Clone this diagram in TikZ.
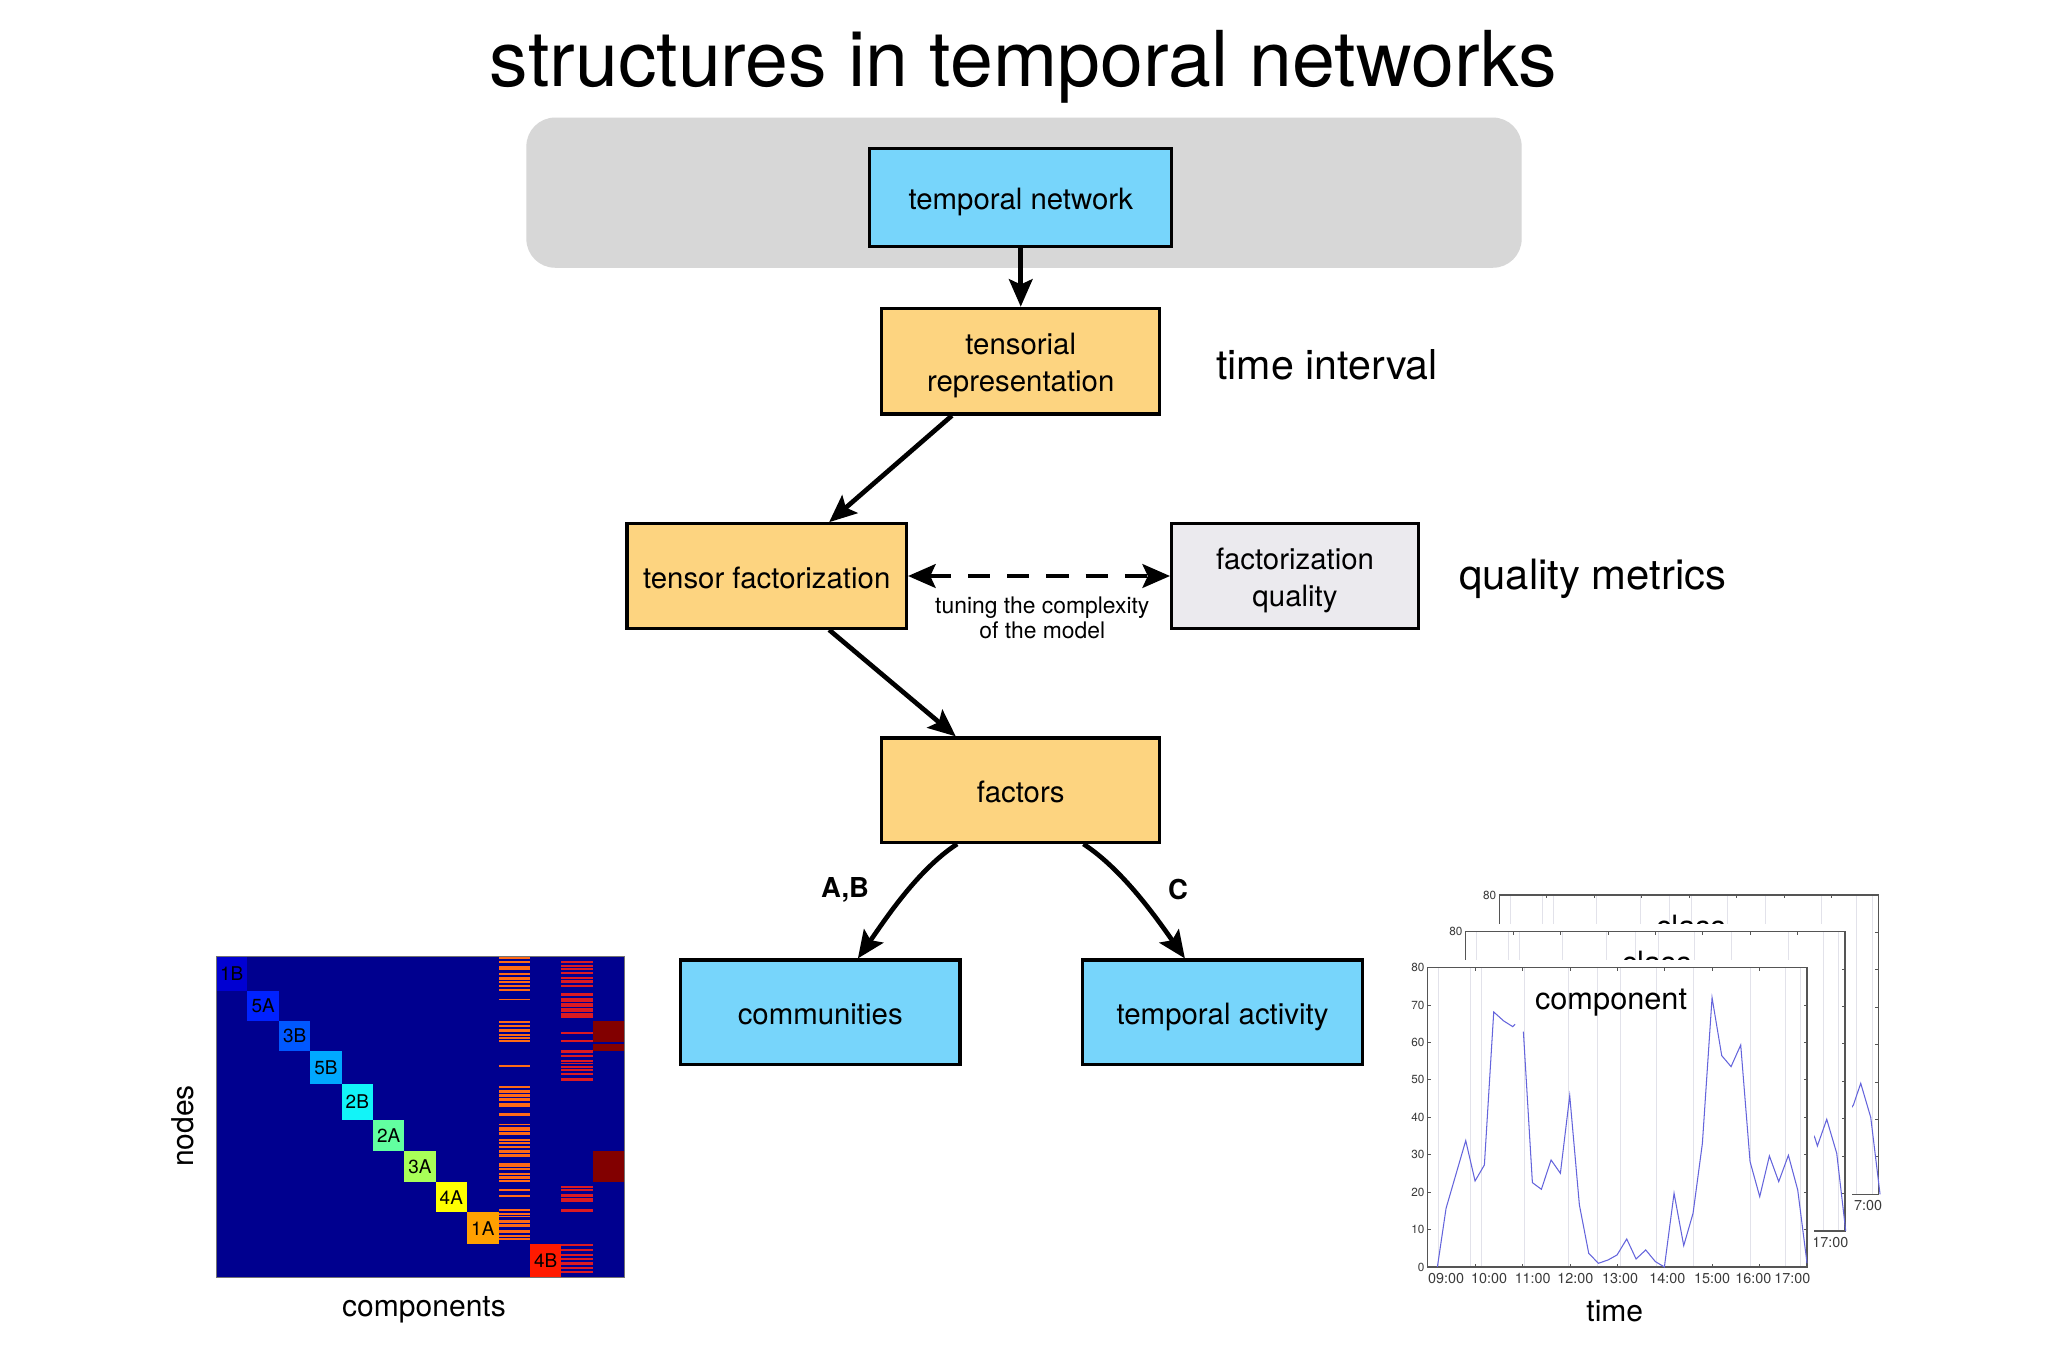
\documentclass[tikz,border=0pt]{standalone}
\usepackage{fontspec}
\setmainfont{TeX Gyre Heros}
\usetikzlibrary{arrows.meta,calc}
\definecolor{bgray}{HTML}{D7D7D7}
\definecolor{bblue}{HTML}{77D5FB}
\definecolor{borange}{HTML}{FDD480}
\definecolor{bqual}{HTML}{EBEAEE}
\definecolor{hmbg}{HTML}{00008F}
\definecolor{cIB}{HTML}{0000D2}
\definecolor{cVA}{HTML}{0022FF}
\definecolor{cIIIB}{HTML}{0058FF}
\definecolor{cVB}{HTML}{00A8FF}
\definecolor{cIIB}{HTML}{12F4F8}
\definecolor{cIIA}{HTML}{62FFA0}
\definecolor{cIIIA}{HTML}{A8FF58}
\definecolor{cIVA}{HTML}{FFFF00}
\definecolor{cIA}{HTML}{FFA000}
\definecolor{cIVB}{HTML}{FF1A00}
\definecolor{hmorange}{HTML}{FF6A16}
\definecolor{hmred}{HTML}{DC1A22}
\definecolor{hmdark}{HTML}{820000}
\definecolor{gridc}{HTML}{E2E2EA}
\definecolor{axc}{HTML}{555555}
\definecolor{labc}{HTML}{3A3A3A}
\definecolor{serc}{HTML}{6464DC}
\newcommand{\fsz}[2]{\fontsize{#1}{#2}\selectfont}
\newcommand{\tb}{\rule{0pt}{23.5pt}}
\newcommand{\te}{\rule[-5pt]{0pt}{5pt}}
% chart frame in zoomed units (front chart: axes 143..1281 x 323..1221)
\newcommand{\chartframe}{%
  \fill[white] (95,300) rectangle (1301,1300);
  \foreach \gx in {175,272,305,433,565,652,720,828,940,1110,1215,1262}
    \draw[gridc, line width=0.5pt] (\gx,323) -- (\gx,1221);
  \draw[axc, line width=0.9pt] (143,323) rectangle (1281,1221);
  \foreach \k in {0,...,8} {
    \draw[axc, line width=0.6pt] ({143+142.25*\k},1221) -- ++(0,-10);
    \draw[axc, line width=0.6pt] ({143+142.25*\k},323) -- ++(0,10);
  }
  \foreach \j in {0,...,8} {
    \draw[axc, line width=0.6pt] (143,{1221-112.25*\j}) -- ++(10,0);
    \draw[axc, line width=0.6pt] (1281,{1221-112.25*\j}) -- ++(-10,0);
  }
}
\begin{document}
\begin{tikzpicture}[x=1pt,y=-1pt,
  box/.style={draw=black, line width=2.4pt, minimum width=#1, minimum height=80pt,
    inner sep=0pt, align=center, font=\fsz{22.5}{28}},
  box/.default=213pt,
  tipa/.tip={Stealth[length=21pt,width=18pt,inset=4pt]},
  arr/.style={line width=3.6pt, -tipa},
  ylab/.style={font=\fsz{9}{10}, text=labc, inner sep=1pt},
  xlab/.style={font=\fsz{11}{12}, text=labc, inner sep=0pt},
  sqlab/.style={font=\fsz{14.5}{16}, text=black, inner sep=0pt},
  big/.style={font=\fsz{31.5}{36}, inner sep=0pt},
]
\useasboundingbox (0,0) rectangle (1568,1045);
\fill[white] (0,0) rectangle (1568,1045);

% title
\node[font=\fsz{59}{70}, anchor=base, inner sep=0pt] (title) at (783.5,66.4) {structures in temporal networks};

% grey panel
\node[fill=bgray, rounded corners=22pt, minimum width=762pt, minimum height=115pt, inner sep=0pt] (panel) at (784,147.5) {};

% boxes
\node[box=231pt, minimum height=75pt, fill=bblue] (tn) at (781.5,151.5) {\tb temporal network\te};
\node[box=213pt, minimum height=81pt, fill=borange] (tr) at (781.5,276.5) {\tb tensorial\\representation\te};
\node[box=214pt, fill=borange] (tf) at (587,441) {\tb tensor factorization\te};
\node[box=189pt, fill=bqual] (fq) at (991.5,441) {\tb factorization\\quality\te};
\node[box=213pt, fill=borange] (fa) at (781.5,605) {\tb factors\te};
\node[box=214pt, fill=bblue] (co) at (628,775) {\tb communities\te};
\node[box=214pt, fill=bblue] (ta) at (936,775) {\tb temporal activity\te};

% side texts
\node[big, anchor=base west] (ti) at (931,290.4) {time interval};
\node[big, font=\fsz{32}{36}, anchor=base west] (qm) at (1117,451) {quality metrics};
\node[font=\fsz{17.5}{19.6}, align=center, anchor=base, inner sep=0pt] (tune) at (798,489.2) {tuning the complexity\\of the model};

% connectors
\draw[arr] (tn.south) -- (tr.north);
\draw[arr] ([xshift=55pt]tr.south west) -- ([xshift=156pt]tf.north west);
\draw[arr] ([xshift=156pt]tf.south west) -- ([xshift=58pt]fa.north west);
\draw[line width=3.6pt, dash pattern=on 17pt off 13pt, tipa-tipa]
  (tf.east) -- (fq.west);
\draw[arr] ([xshift=59pt]fa.south west) .. controls +(-30.2,19.6) and +(20.7,-29.5) .. ([xshift=137pt]co.north west);
\draw[arr] ([xshift=155.7pt]fa.south west) .. controls +(30.2,19.6) and +(-20.7,-29.5) .. ([xshift=79.4pt]ta.north west);
\node[font=\bfseries\fsz{21}{24}, inner sep=0pt] (lab) at (647,681) {A,B};
\node[font=\bfseries\fsz{21}{24}, inner sep=0pt] (labc) at (902,681) {C};

% heatmap
\begin{scope}[shift={(137.8,719.7)}, x=0.25521pt, y=-0.25521pt]
  \fill[hmbg] (108,48) rectangle (1333,1013);
  \foreach \xa/\xb/\ya/\yb/\col/\lab in {
      108/202/48/153/cIB/1B, 202/297/153/243/cVA/5A, 297/391/243/333/cIIIB/3B,
      391/485/333/432/cVB/5B, 485/579/432/540/cIIB/2B, 579/673/540/632/cIIA/2A,
      673/767/632/727/cIIIA/3A, 767/861/727/817/cIVA/4A, 861/956/817/912/cIA/1A,
      1050/1144/912/1013/cIVB/4B} {
    \fill[\col] (\xa,\ya) rectangle (\xb,\yb);
    \node[sqlab] (sq\lab) at ({(\xa+\xb)/2},{(\ya+\yb)/2}) {\lab};
  }
  \foreach \a/\b in {50/56,63/70,78/90,100/106,112/120,123/130,136/141,146/153,176/181,
      243/250,256/262,268/275,282/288,292/296,299/305,376/382,
      437/444,451/458,462/470,475/482,490/500,518/528,551/556,562/572,575/584,
      596/602,606/612,617/625,630/640,643/650,670/680,683/690,700/704,708/716,719/727,
      748/753,765/770,808/813,818/824,827/832,840/848,852/860,870/880,885/890,895/900}
    \fill[hmorange] (956,\a) rectangle (1050,\b);
  \foreach \a/\b in {48/52,62/68,75/82,84/90,96/102,110/118,121/128,135/141,160/168,175/186,
      190/200,205/215,220/227,229/235,276/282,300/305,330/340,345/352,360/366,368/372,
      378/385,387/392,398/405,413/424,737/744,746/752,762/770,775/787,808/815,
      912/917,928/934,941/947,954/961,967/974,981/988,994/1000}
    \fill[hmred] (1144,\a) rectangle (1239,\b);
  \fill[hmdark] (1239,243) rectangle (1333,305);
  \fill[hmdark] (1239,313) rectangle (1333,333);
  \fill[hmdark] (1239,632) rectangle (1333,727);
  \draw[black!55, line width=0.5pt] (108,48) rectangle (1333,1013);
\end{scope}
\node[font=\fsz{23}{26}, rotate=90, anchor=base, inner sep=0pt] (nodes) at (148.5,862) {nodes};
\node[font=\fsz{23}{26}, anchor=base, inner sep=0pt] (comps) at (324.6,1008) {components};

% stacked charts
\begin{scope}[shift={(1056.6,658.4)}, x=0.25521pt, y=-0.25521pt]
  % back chart
  \begin{scope}[shift={(215,-218)}]
    \chartframe
    \node[ylab, anchor=east] (c3y) at (138,323) {80};
    \node[xlab, anchor=center] (c3x) at (1237,1255) {17:00};
    \node[font=\fsz{23.5}{26}, anchor=base, inner sep=0pt] (c3t) at (718,450) {class};
    \draw[serc, line width=0.8pt] (1180,990) -- (1205,953) -- (1227,888) -- (1257,990) -- (1285,1221);
  \end{scope}
  % middle chart
  \begin{scope}[shift={(114,-108)}]
    \chartframe
    \node[ylab, anchor=east] (c2y) at (138,323) {80};
    \node[xlab, anchor=center] (c2x) at (1237,1255) {17:00};
    \node[font=\fsz{23.5}{26}, anchor=base, inner sep=0pt] (c2t) at (716,450) {class};
    \draw[serc, line width=0.8pt] (1170,900) -- (1191,943) -- (1198,966) -- (1226,886) -- (1256,988) -- (1283,1221);
  \end{scope}
  % front chart
  \chartframe
  \foreach \j/\v in {0/0,1/10,2/20,3/30,4/40,5/50,6/60,7/70,8/80}
    \node[ylab, anchor=east] (fy\v) at (138,{1221-112.25*\j}) {\v};
  \foreach \px/\t in {198/09:00,327/10:00,458/11:00,586/12:00,720/13:00,862/14:00,996/15:00,1120/16:00,1237/17:00}
    \node[xlab] (fx\px) at (\px,1255) {\t};
  \node[font=\fsz{23.5}{26}, anchor=base, inner sep=0pt] (c1t) at (693,450) {component};
  \draw[serc, line width=0.8pt] (172,1221) -- (198,1045) -- (257,842) -- (285,963) -- (313,915) -- (341,456) -- (371,483) -- (398,500) -- (405,493);
  \draw[serc, line width=0.8pt] (430,515) -- (457,968) -- (484,988) -- (513,900) -- (541,940) -- (569,707) -- (598,1035) -- (626,1180) -- (655,1210) -- (684,1200) -- (711,1185) -- (740,1137) -- (768,1197) -- (797,1170) -- (826,1205) -- (853,1221) -- (882,1000) -- (911,1157) -- (939,1060) -- (967,850) -- (996,413) -- (1025,587) -- (1053,620) -- (1082,555) -- (1110,905) -- (1139,1010) -- (1168,888) -- (1196,965) -- (1225,886) -- (1253,990) -- (1281,1210);
\end{scope}
\node[font=\fsz{23}{26}, anchor=base, inner sep=0pt] (time) at (1236.3,1012) {time};
\end{tikzpicture}
\end{document}
